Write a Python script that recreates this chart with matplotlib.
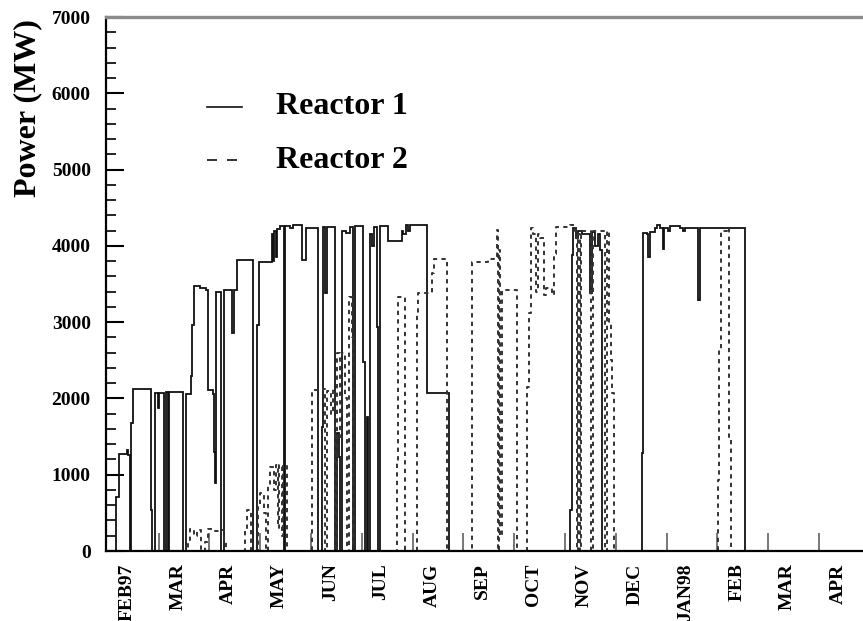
import matplotlib
matplotlib.use("Agg")
import matplotlib.pyplot as plt
from matplotlib.ticker import MultipleLocator, FixedLocator

# thermal power of the two reactors, days counted from the FEB97 mark
# (stepwise: each value holds until the next time)
t_reactor1 = [-12.6, -6.6, -5.0, -0.2, 0.6, 1.8, 2.4, 3.4, 14.4, 14.7,
              16.9, 18.3, 19.4, 22.3, 23.6, 24.5, 25.1, 25.4, 33.7,
              35.3, 38.3, 38.9, 40.3, 43.7, 47.3, 48.3, 51.3, 51.8, 52.7,
              53.3, 56.2, 58.2, 63.0, 64.0, 65.6, 75.6, 78.0, 78.7, 86.6,
              87.4, 88.0, 89.2, 89.8, 91.6, 94.2, 94.8, 97.5, 99.3, 104.7,
              106.8, 114.5, 116.7, 117.3, 118.5, 119.4, 124.5, 125.7, 126.6,
              127.2, 128.5, 131.1, 133.4, 135.4, 136.4, 141.2, 142.1, 143.4,
              144.2, 145.4, 146.6, 147.5, 149.4, 150.2, 151.4, 156.4, 164.4,
              165.2, 166.9, 168.1, 169.3, 179.3, 192.7, 265.1, 266.1, 267.1,
              268.7, 269.9, 272.3, 277.1, 278.3, 280.0, 281.8, 283.0, 284.5,
              308.0, 308.8, 311.2, 311.8, 312.7, 316.0, 317.2, 318.9, 320.7,
              321.6, 323.7, 324.9, 330.9, 332.7, 333.9, 341.9, 342.6, 369.8,
              440.4]
p_reactor1 = [0, 710, 1270, 1320, 1260, 0, 1680, 2120, 540, 0,
              2070, 1870, 2070, 0, 2080, 0, 670, 2080, 0,
              2060, 2300, 2960, 3470, 3450, 3420, 2110, 2060, 1300, 890,
              3400, 0, 3420, 2860, 3420, 3810, 0, 2960, 3790, 4150,
              3800, 4200, 3850, 4220, 4260, 0, 4260, 4230, 4270, 3810,
              4240, 0, 1630, 4250, 3380, 4250, 0, 1550, 1230,
              0, 4200, 4170, 4250, 0, 4260, 2480, 0, 1760,
              0, 4150, 4000, 4250, 2940, 0, 4260, 4060, 4200,
              4160, 4270, 4200, 4270, 2075, 0, 540, 3880, 4240,
              4100, 4200, 4150, 3380, 4180, 4000, 4150, 3950, 0,
              1280, 4170, 4150, 3860, 4180, 4230, 4280, 4240, 3960,
              4240, 4200, 4260, 4240, 4200, 4240, 3290, 4240, 0,
              0]

t_reactor2 = [-12.6, 36.5, 37.7, 40.1, 41.9, 44.3, 46.7, 48.5, 51.5, 55.1,
              58.0, 59.2, 70.6, 71.8, 74.2, 78.4, 79.6, 82.0, 83.2, 84.4,
              85.6, 88.0, 89.2, 90.4, 91.0, 92.8, 93.4, 96.0, 110.4, 117.3,
              118.5, 119.7, 122.1, 123.3, 124.5, 125.7, 127.5, 128.7, 130.5,
              131.6, 132.8, 134.6, 135.5, 161.4, 162.2, 166.4, 173.4, 174.1,
              181.3, 182.5, 183.4, 191.3, 206.3, 216.2, 219.6, 221.2, 221.7,
              222.3, 223.2, 224.1, 233.2, 239.4, 240.6, 241.8, 243.0, 244.7,
              245.9, 247.1, 249.5, 250.7, 254.3, 255.2, 256.7, 265.1, 268.1,
              269.3, 269.9, 271.1, 271.7, 277.7, 278.6, 285.5, 286.3, 287.2,
              288.4, 289.6, 290.5, 291.4, 353.4, 354.3, 355.5, 359.0, 360.5,
              361.4, 440.4]
p_reactor2 = [0, 150, 290, 200, 280, 0, 120, 290, 260, 280,
              150, 0, 270, 540, 0, 620, 760, 500, 0, 850,
              1100, 800, 1130, 300, 1130, 200, 1130, 0, 2110, 2130,
              0, 2100, 1800, 2130, 0, 2590, 1500, 2590, 2000,
              0, 3330, 2800, 0, 1150, 3330, 0, 3100, 3380,
              3380, 3650, 3830, 0, 3790, 3830, 3850, 4210, 0,
              3950, 200, 3420, 0, 2150, 3120, 4230, 4150, 3400,
              4150, 4100, 3350, 3450, 3350, 3900, 4250, 4270, 4200,
              0, 4150, 0, 4200, 0, 4200, 4200, 0, 4200,
              2990, 2500, 2070, 0, 930, 2630, 4200, 4230, 1500,
              0, 0]

month_labels = ["FEB97", "MAR", "APR", "MAY", "JUN", "JUL", "AUG", "SEP",
                "OCT", "NOV", "DEC", "JAN98", "FEB", "MAR", "APR"]
days_per_month = 30.4

serif = ["Liberation Serif", "DejaVu Serif"]

fig = plt.figure(figsize=(8.63, 6.21), dpi=100)
ax = fig.add_axes([0.1228, 0.1127, 0.8772, 0.8599])

ax.plot(t_reactor1, p_reactor1, drawstyle="steps-post", color="#111111",
        lw=1.3, solid_joinstyle="miter")
ax.plot(t_reactor2, p_reactor2, drawstyle="steps-post", color="#333333",
        lw=1.4, linestyle=(0, (2.2, 2.2)))

ax.set_xlim(-12.6, 440.4)
ax.set_ylim(0, 7000)

# y axis: labelled every 1000, small ticks every 200, all pointing inwards
ax.yaxis.set_major_locator(MultipleLocator(1000))
ax.yaxis.set_minor_locator(MultipleLocator(200))
ax.tick_params(axis="y", which="major", direction="in", length=13, width=1.5,
               pad=11, labelsize=14)
ax.tick_params(axis="y", which="minor", direction="in", length=7, width=1.2)
for lab in ax.get_yticklabels():
    lab.set_fontfamily(serif)
    lab.set_fontweight("bold")

# x axis: month names sit between the tick marks
tick_pos = [(i + 0.62) * days_per_month for i in range(14)]
label_pos = [i * days_per_month for i in range(len(month_labels))]
ax.xaxis.set_major_locator(FixedLocator(tick_pos))
ax.xaxis.set_major_formatter(plt.NullFormatter())
ax.tick_params(axis="x", which="major", direction="in", length=13, width=1.4,
               color="#777777")
ax.xaxis.set_minor_locator(FixedLocator(label_pos))
ax.set_xticklabels(month_labels, minor=True, rotation=90, fontsize=14,
                   fontweight="bold", family=serif, va="top", ha="center")
ax.tick_params(axis="x", which="minor", length=0, pad=9)

ax.spines["right"].set_visible(False)
ax.spines["top"].set_color("#8a8a8a")
ax.spines["top"].set_linewidth(2.4)
ax.spines["left"].set_linewidth(1.6)
ax.spines["bottom"].set_linewidth(1.6)

fig.text(0.032, 0.826, "Power (MW)", rotation=90, ha="center", va="center",
         fontsize=23, fontweight="bold", family=serif)

# legend drawn by hand in axes coordinates
ax.plot([0.1334, 0.1797], [0.8315, 0.8315], transform=ax.transAxes,
        color="#111111", lw=1.2)
ax.plot([0.1334, 0.1770], [0.732, 0.732], transform=ax.transAxes,
        color="#111111", lw=1.2, linestyle=(0, (6, 6)))
ax.text(0.2246, 0.8315, "Reactor 1", transform=ax.transAxes, va="center",
        ha="left", fontsize=23, fontweight="bold", family=serif)
ax.text(0.2246, 0.732, "Reactor 2", transform=ax.transAxes, va="center",
        ha="left", fontsize=23, fontweight="bold", family=serif)

fig.savefig("out.png", dpi=100)
